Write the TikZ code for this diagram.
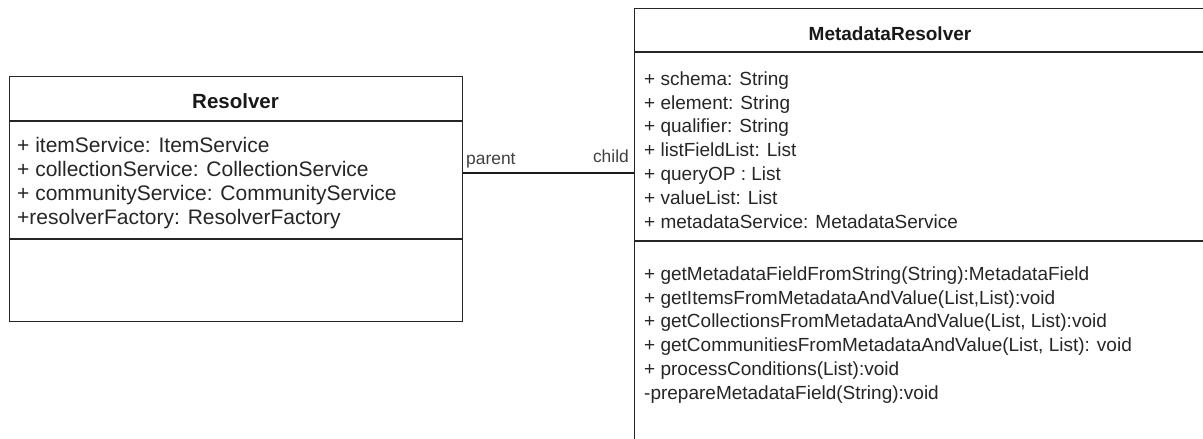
\documentclass[tikz,border=0pt]{standalone}
\usepackage{fontspec}
\setmainfont{Liberation Sans}
\begin{document}
\begin{tikzpicture}[x=1pt,y=-1pt,
  classbox/.style={draw=black!85, line width=1.3pt, rectangle, inner sep=0pt, fill=white},
  sepline/.style={draw=black!85, line width=1.3pt},
  conn/.style={draw=black!90, line width=1.2pt},
  titletext/.style={font=\fontsize{19}{23.8}\selectfont\bfseries, text=black!90, inner sep=0pt, anchor=base},
  membertext/.style={font=\fontsize{19}{23.8}\selectfont, text=black!85, inner sep=0pt, anchor=north west, align=left},
  widemember/.style={membertext, font=\fontsize{21}{24}\selectfont},
  roletext/.style={font=\fontsize{17.4}{20}\selectfont, text=black!75, inner sep=0pt}
]
\useasboundingbox (0,0) rectangle (1203,439);
\clip (0,0) rectangle (1203,439);
\fill[white] (0,0) rectangle (1203,439);

% Resolver class
\node[classbox, minimum width=453pt, minimum height=245pt, anchor=north west] (resolver) at (9,76) {};
\draw[sepline] ([yshift=-45pt]resolver.north west) -- ([yshift=-45pt]resolver.north east);
\draw[sepline] ([yshift=-163pt]resolver.north west) -- ([yshift=-163pt]resolver.north east);
\node[titletext, font=\fontsize{20.5}{24}\selectfont\bfseries] (rtitle) at (235.5,108) {Resolver};
\node[widemember] (rattr) at (17,135.2) {\strut+ itemService: ItemService\\+ collectionService: CollectionService\\+ communityService: CommunityService\\+resolverFactory: ResolverFactory};

% MetadataResolver class
\node[classbox, minimum width=626pt, minimum height=452pt, anchor=north west] (meta) at (634,8) {};
\draw[sepline] ([yshift=-44pt]meta.north west) -- ([yshift=-44pt]meta.north east);
\draw[sepline] ([yshift=-233pt]meta.north west) -- ([yshift=-233pt]meta.north east);
\node[titletext] (mtitle) at (890,40) {MetadataResolver};
\node[membertext] (mattr) at (644,68.34) {\strut+ schema: String\\+ element: String\\+ qualifier: String\\+ listFieldList: List\\+ queryOP : List\\+ valueList: List\\+ metadataService: MetadataService};
\node[membertext] (mmeth) at (644,263.34) {\strut+ getMetadataFieldFromString(String):MetadataField\\+ getItemsFromMetadataAndValue(List,List):void\\+ getCollectionsFromMetadataAndValue(List, List):void\\+ getCommunitiesFromMetadataAndValue(List, List): void\\+ processConditions(List):void\\-prepareMetadataField(String):void};

% association
\coordinate (cl) at (0,173);
\draw[conn] (resolver.east |- cl) -- (meta.west |- cl);
\node[roletext, anchor=base west] (parent) at (466,164) {parent};
\node[roletext, anchor=base east] (child) at (629,162) {child};
\end{tikzpicture}
\end{document}
